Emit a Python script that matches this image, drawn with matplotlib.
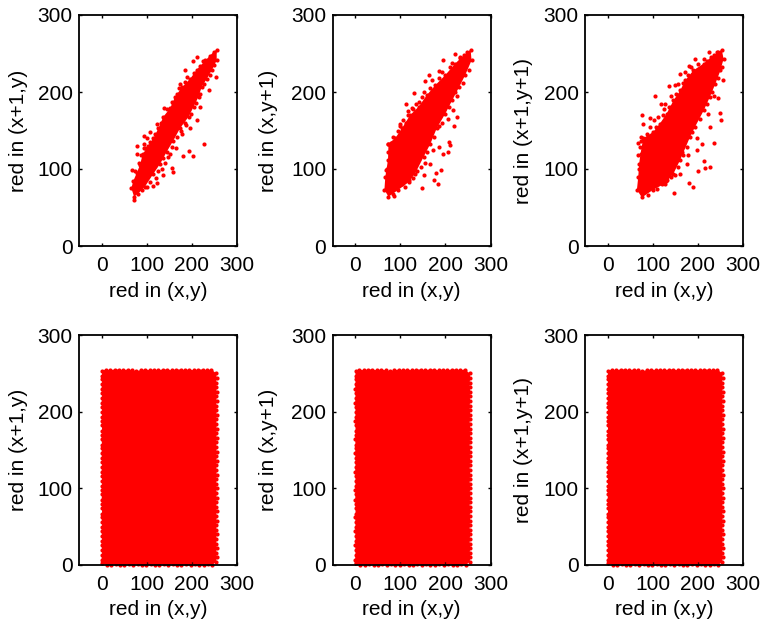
import matplotlib
matplotlib.use('Agg')
import matplotlib.pyplot as plt

plt.rcParams['font.family'] = ['Liberation Sans', 'DejaVu Sans']

# The middle of each cloud is solid red and single points cannot be read there,
# so the cloud edge is read off the picture (dots + fill), outliers are dots.

# top row: edge of the solid cloud, then the stray points
edge1_x = [66, 70, 78, 85, 91, 103, 115, 126, 137, 152, 163, 178, 196, 211, 230, 248, 255,
           255, 244, 233, 222, 215, 204, 193, 174, 159, 144, 130, 115, 96, 81, 72]
edge1_y = [75, 84, 95, 105, 119, 130, 140, 153, 168, 179, 194, 206, 217, 229, 241, 252, 255,
           241, 228, 217, 207, 194, 181, 168, 153, 137, 122, 107, 94, 77, 68, 64]
out1_x = [202, 211, 185, 227, 193, 181, 202, 78, 78, 68, 94, 94, 107, 93, 101, 139, 156, 174,
          237, 254, 237, 219, 211, 196, 187, 178, 156, 159, 136, 122, 115, 152, 137, 165, 72,
          75, 83, 88, 97, 108, 118, 122, 131, 145, 158, 168, 172, 185, 190, 205, 218, 225, 240,
          250, 240, 228, 218, 210, 198, 185, 168, 155, 147, 133, 120, 108, 90, 100, 125, 140, 175, 205, 226]
out1_y = [240, 245, 228, 132, 123, 117, 117, 130, 120, 99, 133, 127, 148, 143, 140, 179, 187, 211,
          237, 220, 202, 181, 163, 153, 157, 146, 101, 96, 92, 82, 78, 120, 114, 127, 60,
          97, 108, 118, 127, 135, 146, 158, 160, 178, 186, 198, 205, 213, 220, 225, 234, 240, 247,
          235, 222, 210, 198, 186, 172, 160, 142, 128, 115, 100, 88, 83, 73, 76, 97, 108, 150, 192, 218]

edge2_x = [65, 67, 73, 74, 89, 104, 122, 141, 159, 178, 200, 222, 241, 256,
           258, 244, 231, 215, 200, 181, 167, 152, 133, 119, 96, 74]
edge2_y = [73, 90, 112, 133, 140, 153, 170, 181, 196, 209, 222, 237, 248, 255,
           241, 222, 207, 189, 172, 153, 133, 116, 94, 83, 73, 64]
out2_x = [113, 130, 141, 126, 163, 156, 194, 187, 222, 233, 106, 117, 100, 74, 226, 219, 216, 187,
          185, 209, 211, 206, 195, 190, 180, 174, 183, 148, 87, 167, 152, 68,
          70, 72, 80, 84, 95, 100, 112, 118, 128, 135, 148, 152, 166, 170, 185, 192, 210, 215, 232, 248,
          252, 238, 225, 208, 192, 175, 160, 145, 128, 110, 105, 85, 172, 155, 138, 120, 205, 222]
out2_y = [185, 199, 187, 179, 222, 214, 242, 227, 250, 246, 163, 170, 156, 132, 168, 156, 176, 156,
          129, 135, 131, 122, 120, 99, 95, 86, 81, 75, 65, 107, 92, 99,
          100, 122, 134, 142, 150, 158, 160, 175, 178, 185, 193, 200, 205, 215, 218, 226, 232, 238, 244, 252,
          228, 212, 195, 180, 160, 142, 122, 103, 88, 76, 80, 68, 125, 108, 98, 86, 165, 200]

edge3_x = [65, 68, 70, 73, 79, 101, 116, 131, 146, 161, 172, 190, 213, 235, 253,
           257, 250, 239, 227, 213, 194, 183, 161, 146, 127, 101, 76]
edge3_y = [73, 90, 107, 120, 140, 148, 159, 172, 189, 202, 215, 228, 237, 248, 255,
           243, 228, 211, 194, 176, 155, 142, 112, 94, 81, 73, 63]
out3_x = [105, 135, 150, 76, 79, 93, 103, 118, 127, 137, 161, 172, 181, 194, 213, 224, 242, 67, 73,
          68, 255, 252, 244, 248, 226, 236, 214, 227, 216, 201, 181, 190, 148, 198, 209, 176, 161, 131,
          70, 72, 75, 88, 95, 108, 112, 122, 125, 140, 140, 152, 155, 166, 178, 200, 220, 245, 185, 230,
          253, 244, 232, 220, 205, 188, 175, 168, 155, 140, 120, 110, 90, 198, 178, 150, 222, 236, 165, 130]
out3_y = [195, 208, 209, 170, 158, 166, 164, 185, 185, 181, 224, 226, 234, 243, 243, 252, 252, 134, 137,
          118, 216, 163, 192, 173, 155, 134, 111, 103, 101, 98, 82, 77, 69, 125, 133, 107, 94, 86,
          100, 128, 142, 145, 155, 155, 168, 170, 178, 180, 195, 198, 210, 212, 222, 236, 240, 252, 232, 245,
          232, 218, 200, 184, 165, 148, 128, 118, 102, 90, 80, 74, 66, 140, 118, 92, 172, 195, 122, 84]

# bottom row: the cloud fills the whole 0-255 square, walked round its edge
left_x = [1, 0, 1, 1, 0, 1, 1, 0, 1, 1, 0, 1, 1, 1, 0, 1, 0, 1, 1, 1, 0, 1,
          1, 1, 0, 1, 1, 0, 1, 1, 1, 0, 1, 1, 1, 0, 1, 1, 0, 1, 1, 1, 1]
left_y = [2, 7, 13, 20, 26, 31, 38, 44, 49, 56, 62, 67, 74, 80, 85, 92, 98, 103, 110, 116, 121, 128,
          134, 139, 146, 152, 157, 164, 170, 175, 182, 188, 193, 200, 206, 211, 218, 224, 229, 236, 242, 247, 253]
top_x = [9, 19, 29, 38, 48, 58, 68, 77, 87, 97, 107, 116, 126, 136, 146, 155, 165, 175, 185, 194, 204, 214, 224, 233, 243]
top_y = [255, 254, 255, 255, 254, 255, 254, 253, 254, 255, 254, 255, 254, 255, 255, 254, 255, 255, 254, 255, 254, 255, 255, 254, 255]
right_x = [254, 255, 254, 254, 255, 254, 255, 254, 254, 255, 254, 254, 255, 254, 255, 254, 254, 255, 254, 255, 254,
           254, 255, 254, 254, 255, 254, 255, 254, 254, 255, 254, 255, 254, 254, 255, 254, 254, 255, 254, 255, 254]
right_y = [250, 244, 238, 232, 226, 220, 214, 208, 202, 196, 190, 184, 178, 172, 166, 160, 154, 148, 142, 136, 130,
           124, 118, 112, 106, 100, 94, 88, 82, 76, 70, 64, 58, 52, 46, 40, 34, 28, 22, 16, 10, 4]
bottom_x = [245, 235, 226, 216, 206, 197, 187, 177, 167, 158, 148, 138, 128, 119, 109, 99, 89, 80, 70, 60, 50, 41, 31, 21, 11]
bottom_y = [0, 1, 0, 0, 1, 0, 1, 0, 0, 1, 0, 1, 0, 0, 1, 0, 0, 1, 0, 1, 0, 0, 1, 0, 0]
square_x = left_x + top_x + right_x + bottom_x
square_y = left_y + top_y + right_y + bottom_y

y_labels = ['red in (x+1,y)', 'red in (x,y+1)', 'red in (x+1,y+1)']
x_label = 'red in (x,y)'
ticks = [0, 100, 200, 300]

W, H = 762, 621
lefts = [79, 332.5, 585]
label_x = [-0.386, -0.405, -0.39]

fig = plt.figure(figsize=(W / 100, H / 100), dpi=100)


def draw(ax, ex, ey, ox, oy, ylabel, lab_x):
    ax.fill(ex, ey, color='#ff0000', lw=0, clip_on=False)
    ax.plot(ex, ey, 'o', color='#ff0000', ms=3.0, mew=0, clip_on=False)
    ax.plot(ox, oy, 'o', color='#ff0000', ms=3.0, mew=0, clip_on=False)
    ax.set_xlim(-50, 300)
    ax.set_ylim(0, 300)
    ax.set_xticks(ticks)
    ax.set_yticks(ticks)
    ax.tick_params(direction='in', top=True, right=True, length=2, width=1.0,
                   labelsize=15, pad=4.5)
    ax.tick_params(axis='x', pad=7)
    for s in ax.spines.values():
        s.set_linewidth(1.3)
    ax.set_xlabel(x_label, fontsize=15, va='center')
    ax.set_ylabel(ylabel, fontsize=15, va='center')
    ax.xaxis.set_label_coords(0.5, -0.195)
    ax.yaxis.set_label_coords(lab_x, 0.5)


clouds = [(edge1_x, edge1_y, out1_x, out1_y),
          (edge2_x, edge2_y, out2_x, out2_y),
          (edge3_x, edge3_y, out3_x, out3_y)]

for i in range(3):
    ax = fig.add_axes([lefts[i] / W, 1 - 246 / H, 158 / W, 231 / H])
    draw(ax, *clouds[i], y_labels[i], label_x[i])
    ax = fig.add_axes([lefts[i] / W, 1 - 565 / H, 158 / W, 230 / H])
    draw(ax, square_x, square_y, [], [], y_labels[i], label_x[i])

fig.savefig('out.png', dpi=100)
